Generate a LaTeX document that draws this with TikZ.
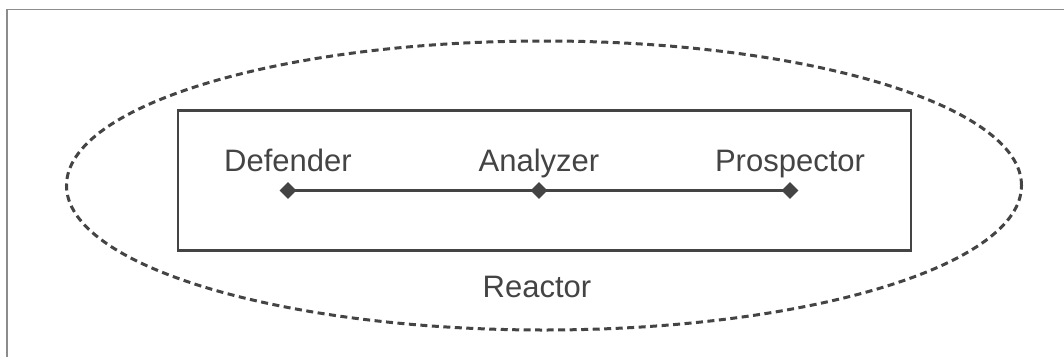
\documentclass[tikz,border=0pt]{standalone}
\usepackage{fontspec}
\setmainfont{Liberation Sans}
\usetikzlibrary{shapes.geometric}
\definecolor{ink}{HTML}{444444}
\definecolor{framegray}{HTML}{8C8C8C}
\begin{document}
\begin{tikzpicture}[x=1pt,y=-1pt,
  lbl/.style={anchor=base,text=ink,font=\fontsize{31}{37}\selectfont,inner sep=0pt},
  dmd/.style={diamond,fill=ink,draw=none,minimum width=17pt,minimum height=17pt,inner sep=0pt},
  link/.style={draw=ink,line width=3.6pt},
  ring/.style={draw=ink,line width=3pt,dash pattern=on 7pt off 4.5pt},
  box/.style={draw=ink,line width=2.4pt}]
\useasboundingbox (0,0) rectangle (1064,356);
\fill[white] (0,0) rectangle (1064,356);
% frame (top and left edges)
\coordinate (fbl) at (7,358);
\coordinate (ftl) at (7,9.5);
\coordinate (ftr) at (1066,9.5);
\draw[framegray,line width=1.6pt] (fbl) -- (ftl) -- (ftr);
% dashed ellipse
\node[ring,ellipse,minimum width=955pt,minimum height=289pt,inner sep=0pt] (reactorzone) at (544,185.5) {};
% inner rectangle
\node[box,minimum width=733pt,minimum height=140pt,inner sep=0pt] (inner) at (544.7,180.3) {};
% diamonds and line
\node[dmd] (d) at (288,190.5) {};
\node[dmd] (a) at (539,190.5) {};
\node[dmd] (p) at (790,190.5) {};
\draw[link] (d.center) -- (a.center) -- (p.center);
% labels
\node[lbl] (dl) at (288,171.5) {Defender};
\node[lbl] (al) at (539,171.5) {Analyzer};
\node[lbl] (pl) at (790,171.5) {Prospector};
\node[lbl] (rl) at (537,297) {Reactor};
\end{tikzpicture}
\end{document}
